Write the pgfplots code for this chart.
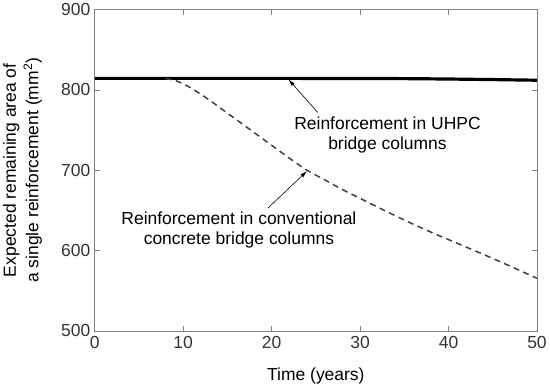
\documentclass[border=0pt]{standalone}
\usepackage{pgfplots}
\pgfplotsset{compat=1.18}
\usetikzlibrary{arrows.meta}
\usepackage{fontspec}
\setmainfont{Liberation Sans}
\definecolor{axgray}{HTML}{808080}
\definecolor{txtgray}{HTML}{333333}
\definecolor{dashgray}{HTML}{404040}
\begin{document}
\begin{tikzpicture}
\begin{axis}[
  width=443pt, height=322pt, scale only axis,
  xmin=0, xmax=50, ymin=500, ymax=900,
  xtick={0,10,20,30,40,50},
  ytick={500,600,700,800,900},
  tick align=inside,
  major tick length=5pt,
  axis line style={axgray, line width=0.7pt},
  every tick/.style={axgray, line width=0.6pt},
  tick label style={font=\fontsize{17.5}{20}\selectfont, text=txtgray},
  xticklabel style={yshift=-2pt},
  yticklabel style={xshift=-1pt},
  /pgf/number format/assume math mode=true,
  xlabel={Time (years)},
  ylabel={Expected remaining area of\\a single reinforcement (mm\textsuperscript{2})},
  label style={font=\fontsize{17.5}{22.5}\selectfont, text=black},
  xlabel style={at={(axis description cs:0.5,-0.139)}, anchor=center},
  ylabel style={at={(axis description cs:-0.163,0.5)}, anchor=center, align=center},
  clip=false,
]
\addplot[black, line width=3.2pt] coordinates {
(0,814.3) (10,814.3) (20,814.3) (30,814.2) (35,814) (40,813.5) (45,812.8) (50,812)
};
\addplot[dashgray, line width=1.5pt, dash pattern=on 6pt off 4.5pt, smooth] coordinates {
(8,814) (9,812) (10,807.5) (11,801.5) (12,794.5) (13,787) (14,779) (15,771) (16,763) (17,755) (18,747) (19,739) (20,731) (22,715) (24,700) (26,688) (28,676) (30,665) (32,654) (35,638) (38,623) (41,609) (44,595) (47,580.5) (50,565.5)
};
\node[font=\fontsize{17.5}{20}\selectfont, align=center] at (axis cs:33.1,743.5) {Reinforcement in UHPC\\bridge columns};
\node[font=\fontsize{17.5}{20}\selectfont, align=center] at (axis cs:16.3,625.5) {Reinforcement in conventional\\concrete bridge columns};
\draw[-{Latex[length=7pt,width=4pt]}, line width=0.6pt] (axis cs:25.2,772) -- (axis cs:21.9,813);
\draw[-{Latex[length=7pt,width=4pt]}, line width=0.6pt] (axis cs:19.6,653) -- (axis cs:24.0,699);
\end{axis}
\end{tikzpicture}
\end{document}
